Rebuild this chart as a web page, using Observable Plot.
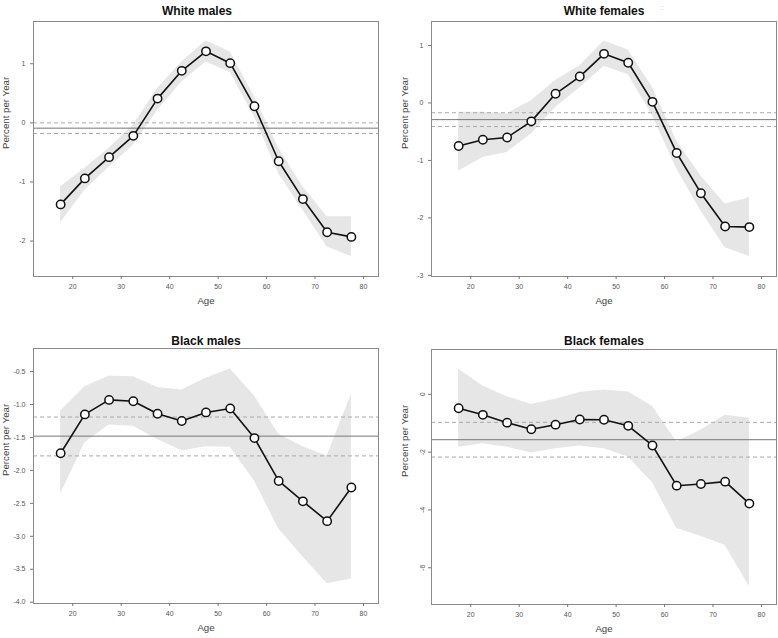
<!DOCTYPE html>
<html>
<head>
<meta charset="utf-8">
<script src="https://cdn.jsdelivr.net/npm/d3@7"></script>
<script src="https://cdn.jsdelivr.net/npm/@observablehq/plot@0.6"></script>
<style>
  html, body { margin: 0; padding: 0; background: #fff; }
  #wrap { position: relative; width: 778px; height: 638px; background: #fff; overflow: hidden; }
  #wrap svg { position: absolute; }
</style>
</head>
<body>
<div id="wrap"></div>
<script>
// ---- Data ----
const ages = [17.5, 22.5, 27.5, 32.5, 37.5, 42.5, 47.5, 52.5, 57.5, 62.5, 67.5, 72.5, 77.5];
const xTicks = [20, 30, 40, 50, 60, 70, 80];

// White males
const wmEst = [-1.38, -0.94, -0.58, -0.22, 0.41, 0.88, 1.21, 1.01, 0.28, -0.65, -1.29, -1.85, -1.93];
const wmLo  = [-1.69, -1.14, -0.75, -0.38, 0.21, 0.69, 1.03, 0.85, 0.10, -0.86, -1.48, -2.10, -2.26];
const wmHi  = [-1.08, -0.77, -0.43, -0.04, 0.58, 1.03, 1.39, 1.20, 0.44, -0.43, -1.08, -1.59, -1.59];
const wmOverall = [-0.09, -0.18, 0.00];
const wmYTicks = [-2, -1, 0, 1];

// White females
const wfEst = [-0.75, -0.64, -0.60, -0.32, 0.16, 0.46, 0.855, 0.70, 0.02, -0.87, -1.57, -2.15, -2.16];
const wfLo  = [-1.19, -0.95, -0.86, -0.54, -0.08, 0.26, 0.64, 0.49, -0.22, -1.15, -1.88, -2.52, -2.67];
const wfHi  = [-0.16, -0.16, -0.19, 0.04, 0.39, 0.65, 1.08, 0.92, 0.27, -0.66, -1.27, -1.76, -1.65];
const wfOverall = [-0.29, -0.41, -0.17];
const wfYTicks = [-3, -2, -1, 0, 1];

// Black males
const bmEst = [-1.74, -1.15, -0.93, -0.95, -1.14, -1.25, -1.12, -1.06, -1.51, -2.16, -2.47, -2.77, -2.26];
const bmLo  = [-2.36, -1.58, -1.31, -1.33, -1.53, -1.70, -1.64, -1.65, -2.16, -2.89, -3.31, -3.72, -3.65];
const bmHi  = [-1.10, -0.73, -0.57, -0.58, -0.74, -0.78, -0.60, -0.46, -0.87, -1.45, -1.64, -1.78, -0.85];
const bmOverall = [-1.48, -1.78, -1.19];
const bmYTicks = [-4.0, -3.5, -3.0, -2.5, -2.0, -1.5, -1.0, -0.5];

// Black females
const bfEst = [-0.48, -0.71, -0.98, -1.21, -1.05, -0.87, -0.88, -1.09, -1.77, -3.16, -3.10, -3.02, -3.78];
const bfLo  = [-1.83, -1.71, -1.83, -2.03, -1.88, -1.79, -1.88, -2.17, -3.05, -4.64, -4.91, -5.23, -6.65];
const bfHi  = [0.87, 0.29, -0.08, -0.35, -0.17, 0.06, 0.15, 0.08, -0.41, -1.65, -1.24, -0.72, -0.83];
const bfOverall = [-1.57, -2.17, -0.97];
const bfYTicks = [-6, -4, -2, 0];

const titles = ["White males", "White females", "Black males", "Black females"];
const xLabel = "Age";
const yLabel = "Percent per Year";

// ---- Drawing ----
const FONT = "'Liberation Sans', Arial, Helvetica, sans-serif";
const wrap = document.getElementById("wrap");

function panel(cfg) {
  const rows = ages.map((a, i) => ({age: a, est: cfg.est[i], lo: cfg.lo[i], hi: cfg.hi[i]}));
  const [mid, ciLo, ciHi] = cfg.overall;
  const svg = Plot.plot({
    width: cfg.width,
    height: cfg.height,
    marginLeft: cfg.m[0],
    marginRight: cfg.m[1],
    marginTop: cfg.m[2],
    marginBottom: cfg.m[3],
    style: {fontFamily: FONT, background: "transparent", overflow: "visible"},
    x: {domain: [11.9, 83.1]},
    y: {domain: cfg.yDomain},
    marks: [
      Plot.areaY(rows, {x: "age", y1: "lo", y2: "hi", fill: "#e6e6e6"}),
      Plot.ruleY([ciLo, ciHi], {stroke: "#aaaaaa", strokeWidth: 1, strokeDasharray: "4,3"}),
      Plot.ruleY([mid], {stroke: "#777777", strokeWidth: 1}),
      Plot.line(rows, {x: "age", y: "est", stroke: "#111", strokeWidth: 1.6}),
      Plot.dot(rows, {x: "age", y: "est", r: 4.2, fill: "white", stroke: "#111", strokeWidth: 1.5}),
      Plot.frame({stroke: "#8a8a8a", strokeWidth: 1}),
      Plot.axisX({ticks: xTicks, tickSize: 3, tickPadding: 5, fontSize: 7, stroke: "#777", fill: "#555",
                  tickFormat: d => String(d), label: null}),
      Plot.axisY({ticks: cfg.yTicks, tickSize: 3, tickPadding: cfg.rotateY ? 4 : 5, fontSize: 7,
                  stroke: "#777", fill: "#555", tickRotate: cfg.rotateY ? -90 : 0,
                  tickFormat: cfg.fmt, label: null}),
      Plot.text([cfg.title], {text: d => d, frameAnchor: "top", dx: cfg.titleDx, dy: cfg.titleDy,
                  fontSize: 12, fontWeight: "bold", fill: "#111"}),
      Plot.text([xLabel], {text: d => d, frameAnchor: "bottom", dy: 27, fontSize: 9.7, fill: "#444"}),
      Plot.text([yLabel], {text: d => d, frameAnchor: "left", dx: -cfg.yLabOff, rotate: -90,
                  fontSize: 9.7, fill: "#444"}),
      ...(cfg.extra || [])
    ]
  });
  svg.style.left = cfg.left + "px";
  svg.style.top = cfg.top + "px";
  wrap.appendChild(svg);
}

const intFmt = d => String(d);
const oneDec = d => d.toFixed(1);

panel({est: wmEst, lo: wmLo, hi: wmHi, overall: wmOverall, yTicks: wmYTicks, fmt: intFmt,
       yDomain: [-2.6, 1.715], title: titles[0], titleDx: -9, titleDy: -15.5,
       left: 0, top: 0, width: 389, height: 319, m: [33, 11, 21, 43], yLabOff: 28});

panel({est: wfEst, lo: wfLo, hi: wfHi, overall: wfOverall, yTicks: wfYTicks, fmt: intFmt,
       yDomain: [-3.02, 1.418], title: titles[1], titleDx: 0, titleDy: -15,
       left: 389, top: 0, width: 389, height: 319, m: [42, 2, 21, 43], yLabOff: 27,
       extra: [Plot.text([":"], {text: d => d, frameAnchor: "top", dx: 58, dy: -16, fontSize: 7, fill: "#999"})]});

panel({est: bmEst, lo: bmLo, hi: bmHi, overall: bmOverall, yTicks: bmYTicks, fmt: oneDec,
       yDomain: [-4.02, -0.15], title: titles[2], titleDx: 0, titleDy: -12,
       left: 0, top: 319, width: 389, height: 319, m: [33, 11, 29, 35], yLabOff: 28});

panel({est: bfEst, lo: bfLo, hi: bfHi, overall: bfOverall, yTicks: bfYTicks, fmt: intFmt, rotateY: true,
       yDomain: [-7.27, 1.55], title: titles[3], titleDx: 0, titleDy: -13,
       left: 389, top: 319, width: 389, height: 319, m: [42, 2, 30, 34], yLabOff: 27});
</script>
</body>
</html>
